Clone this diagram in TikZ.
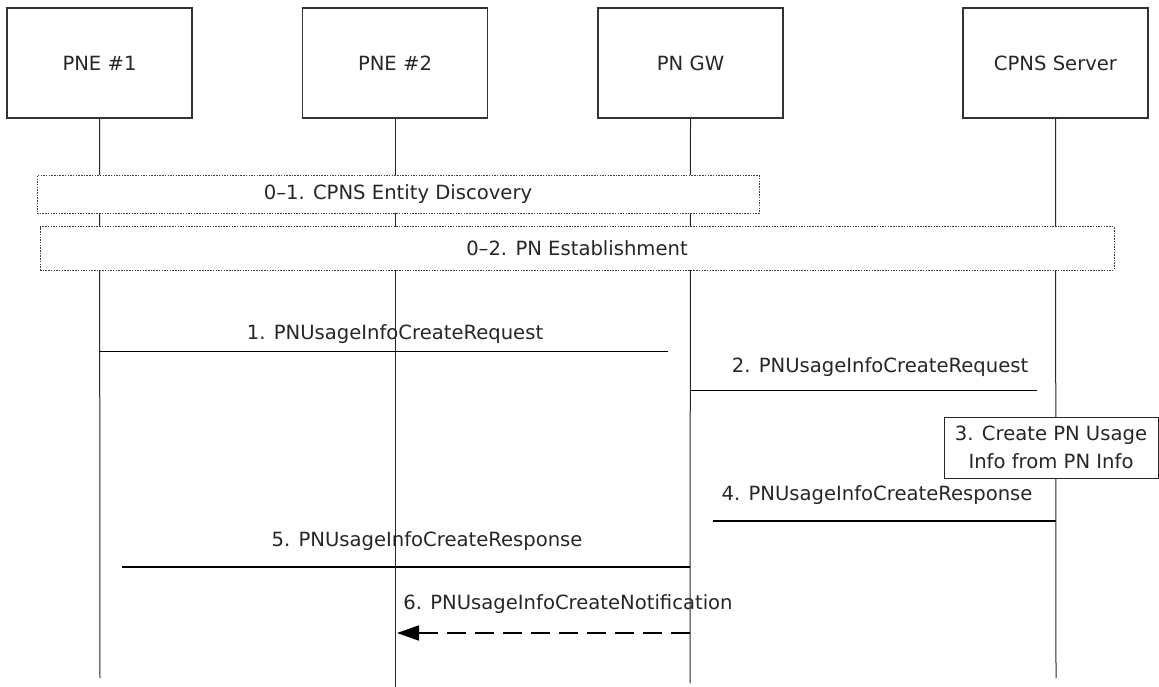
\documentclass[tikz,border=0pt]{standalone}
\usepackage{fontspec}
\setmainfont{DejaVu Sans}
\usetikzlibrary{arrows.meta}
\begin{document}
\begin{tikzpicture}[x=1pt,y=-1pt,
  every node/.style={font=\fontsize{19.6}{28}\selectfont, text=black!85},
  entity/.style={draw=black!80, line width=1.1pt, minimum width=185pt, minimum height=110pt, inner sep=0pt},
  life/.style={draw=black!85, line width=1pt},
  phase/.style={draw=black!75, fill=white, line width=1pt, dash pattern=on 1.5pt off 1.2pt, inner sep=0pt},
  msg/.style={draw=black, line width=1pt},
  msgbold/.style={draw=black, line width=1.8pt},
  lbl/.style={inner sep=0pt},
  note/.style={draw=black!85, fill=white, line width=1pt, inner sep=0pt, align=center,
    minimum width=214pt, minimum height=61pt}]
\useasboundingbox (0,0) rectangle (1159,687);

% participants
\node[entity] (pne1) at (99.5,63) {PNE \#1};
\node[entity] (pne2) at (395,63) {PNE \#2};
\node[entity] (gw)   at (690.5,63) {PN GW};
\node[entity] (cpns) at (1055.5,63) {CPNS Server};

% lifeline ends
\coordinate (pne1end) at (100,678);
\coordinate (pne2end) at (395,687);
\coordinate (gwend)   at (690,683);
\coordinate (cpnsend) at (1056,678);

\draw[life] (pne1.south) -- (pne1end);
\draw[life] (pne2.south) -- (pne2end);
\draw[life] (gw.south)   -- (gwend);
\draw[life] (cpns.south) -- (cpnsend);

% preliminary phases
\node[phase, minimum width=722pt, minimum height=38pt] (disc) at (398,194.5) {0–1. CPNS Entity Discovery};
\node[phase, minimum width=1074pt, minimum height=43pt] (estab) at (577,248.5) {0–2. PN Establishment};

% step 1
\coordinate (m1a) at (100,351);
\coordinate (m1b) at (668,351);
\draw[msg] (m1a) -- (m1b);
\node[lbl] (l1) at (395,334) {1. PNUsageInfoCreateRequest};

% step 2
\coordinate (m2a) at (690,390);
\coordinate (m2b) at (1037,390);
\draw[msg] (m2a) -- (m2b);
\node[lbl] (l2) at (880,367) {2. PNUsageInfoCreateRequest};

% step 3
\node[note] (create) at (1051,447.5) {3. Create PN Usage\\Info from PN Info};

% step 4
\coordinate (m4a) at (713,521);
\coordinate (m4b) at (1056,521);
\draw[msgbold] (m4a) -- (m4b);
\node[lbl] (l4) at (877,495) {4. PNUsageInfoCreateResponse};

% step 5
\coordinate (m5a) at (122,567);
\coordinate (m5b) at (690,567);
\draw[msgbold] (m5a) -- (m5b);
\node[lbl] (l5) at (427,541) {5. PNUsageInfoCreateResponse};

% step 6
\coordinate (m6a) at (690,633);
\coordinate (m6b) at (397,633);
\draw[msgbold, dash pattern=on 19pt off 9pt, -{Triangle[length=22pt,width=15pt]}] (m6a) -- (m6b);
\node[lbl] (l6) at (568,604) {6. PNUsageInfoCreateNotification};
\end{tikzpicture}
\end{document}
